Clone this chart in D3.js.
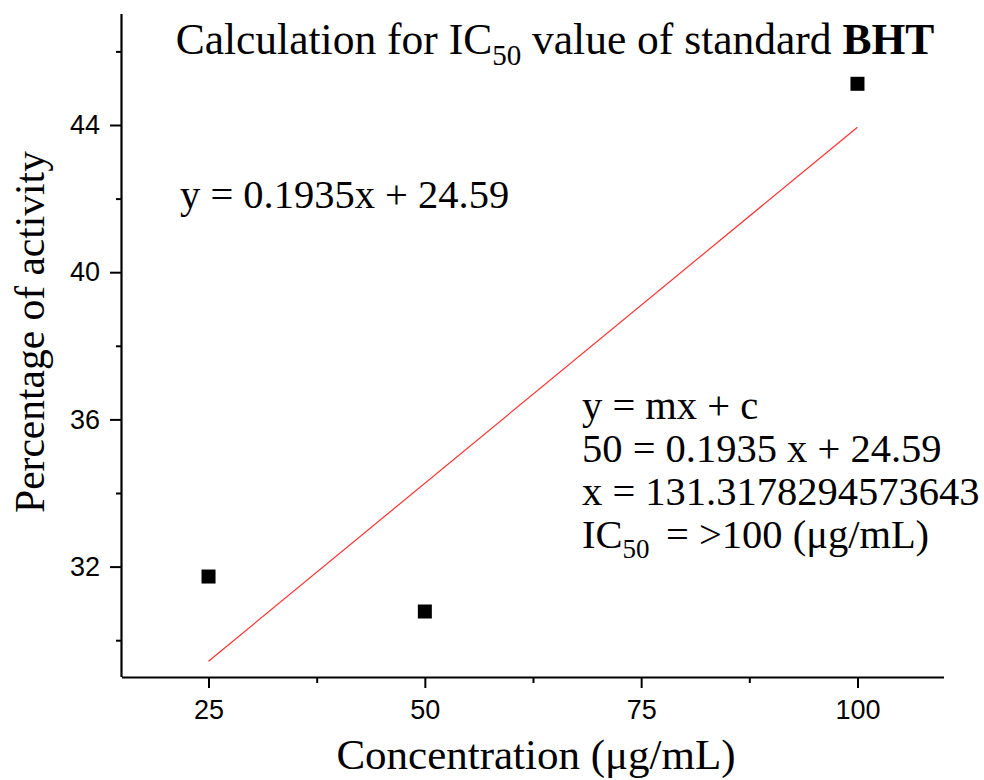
<!DOCTYPE html>
<html><head><meta charset="utf-8">
<script src="https://cdn.jsdelivr.net/npm/d3@7"></script>
<style>body{margin:0;background:#fff}</style>
</head><body>
<svg id="c" width="984" height="780"></svg>
<script>
const concentrations = [25, 50, 100];
const activity = [31.73, 30.78, 45.12];
const slope = 0.1935, intercept = 24.59;
const xTicks = [25, 50, 75, 100];
const xMinor = [37.5, 62.5, 87.5];
const yTicks = [32, 36, 40, 44];
const yMinor = [30, 34, 38, 42, 46];

const svg = d3.select("#c");
const L = 122, R = 944, T = 14, B = 677;
const x = d3.scaleLinear().domain([15, 110]).range([L, R]);
const y = d3.scaleLinear().domain([29, 47]).range([B, B - (47 - 29) * (B - 125) / (44 - 29)]);

const serif = "'Liberation Serif','Times New Roman',serif";
const sans = "'Liberation Sans',Arial,sans-serif";

// minor ticks
svg.append("g").attr("transform", `translate(0,${B})`)
  .call(d3.axisBottom(x).tickValues(xMinor).tickSize(6).tickFormat(""))
  .call(g => { g.select(".domain").remove(); g.selectAll("line").attr("stroke-width", 2); });
svg.append("g").attr("transform", `translate(${L},0)`)
  .call(d3.axisLeft(y).tickValues(yMinor).tickSize(6).tickFormat(""))
  .call(g => { g.select(".domain").remove(); g.selectAll("line").attr("stroke-width", 2); });

// major axes
const xa = svg.append("g").attr("transform", `translate(0,${B})`)
  .call(d3.axisBottom(x).tickValues(xTicks).tickSize(11).tickSizeOuter(0).tickPadding(12));
xa.attr("font-size", 27).attr("font-family", sans);
xa.select(".domain").attr("d", `M${L},0.5H${R}`).attr("stroke-width", 2.2);
xa.selectAll("line").attr("stroke-width", 2);
xa.selectAll("text").style("font-size", "27px").style("font-family", sans).attr("fill", "#000");

const ya = svg.append("g").attr("transform", `translate(${L},0)`)
  .call(d3.axisLeft(y).tickValues(yTicks).tickSize(12).tickSizeOuter(0).tickPadding(10));
ya.attr("font-size", 27).attr("font-family", sans);
ya.select(".domain").attr("d", `M-0.5,${T}V${B}`).attr("stroke-width", 2.2);
ya.selectAll("line").attr("stroke-width", 2);
ya.selectAll("text").style("font-size", "27px").style("font-family", sans).attr("fill", "#000");

// fit line
svg.append("line")
  .attr("x1", x(25)).attr("y1", y(slope * 25 + intercept))
  .attr("x2", x(100)).attr("y2", y(slope * 100 + intercept))
  .attr("stroke", "#ff3030").attr("stroke-width", 1.2);

// points
const s = 14;
svg.selectAll("rect.pt").data(concentrations).join("rect")
  .attr("x", (d) => x(d) - s / 2)
  .attr("y", (d, i) => y(activity[i]) - s / 2)
  .attr("width", s).attr("height", s).attr("fill", "#000");

// title
const title = svg.append("text").attr("x", 555).attr("y", 54).attr("text-anchor", "middle")
  .attr("font-family", serif).attr("font-size", 43.5).attr("fill", "#000");
title.append("tspan").text("Calculation for IC");
title.append("tspan").attr("font-size", 29).attr("dy", 11).text("50");
title.append("tspan").attr("dy", -11).text(" value of standard ");
title.append("tspan").attr("font-weight", "bold").text("BHT");

// axis titles
svg.append("text").attr("x", 536).attr("y", 769).attr("text-anchor", "middle")
  .attr("font-family", serif).attr("font-size", 43).text("Concentration (μg/mL)");
svg.append("text").attr("transform", "translate(44,332) rotate(-90)").attr("text-anchor", "middle")
  .attr("font-family", serif).attr("font-size", 41.5).text("Percentage of activity");

// equations
svg.append("text").attr("x", 180).attr("y", 208).attr("font-family", serif).attr("font-size", 40.5)
  .text("y = 0.1935x + 24.59");
const lines = ["y = mx + c", "50 = 0.1935 x + 24.59", "x = 131.3178294573643"];
lines.forEach((t, i) => svg.append("text").attr("x", 582).attr("y", 419 + i * 43)
  .attr("font-family", serif).attr("font-size", 40.5).text(t));
const ic = svg.append("text").attr("x", 582).attr("y", 548).attr("font-family", serif).attr("font-size", 40.5);
ic.append("tspan").text("IC");
ic.append("tspan").attr("font-size", 27).attr("dy", 10).text("50");
ic.append("tspan").attr("dy", -10).attr("x", 666).text("= >100 (μg/mL)");
</script>
</body></html>
